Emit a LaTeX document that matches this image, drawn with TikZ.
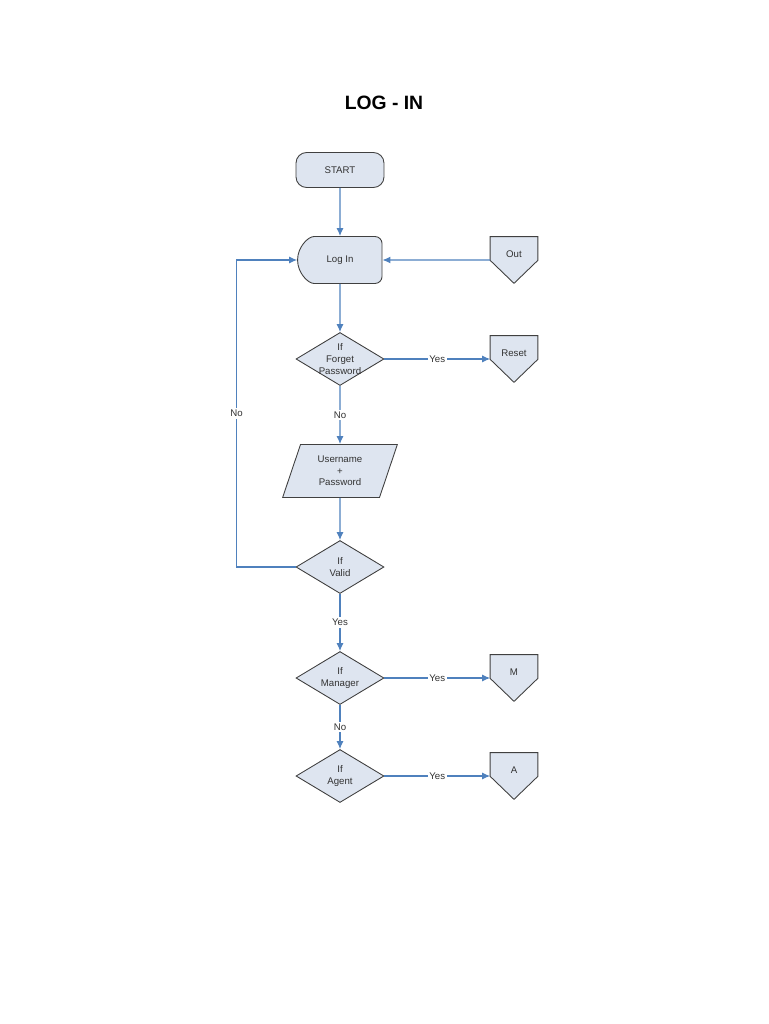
\documentclass[tikz,border=0pt]{standalone}
\usepackage{fontspec}
\setmainfont{Liberation Sans}
\usetikzlibrary{positioning,arrows.meta,shapes.geometric,shapes.misc,backgrounds}
\definecolor{boxfill}{RGB}{222,229,240}
\definecolor{flowblue}{RGB}{79,129,189}
\definecolor{edgegray}{RGB}{64,64,64}
\definecolor{txtgray}{RGB}{50,50,50}

\begin{document}
\begin{tikzpicture}[x=0.02cm, y=-0.02cm,
  base/.style={draw=edgegray, fill=boxfill, font=\fontsize{5.5}{6.6}\selectfont,
               text=txtgray, align=center, inner sep=1pt, line width=0.5pt},
  term/.style={base, rounded corners=6pt, minimum width=1.76cm, minimum height=0.7cm},
  disp/.style={base, rounded rectangle, rounded rectangle right arc=none,
               rounded rectangle left arc=convex, rounded corners=4pt,
               minimum width=1.76cm, minimum height=0.94cm},
  dec/.style={base, diamond, aspect=1.66, inner sep=0pt,
              minimum width=1.76cm, minimum height=1.06cm},
  io/.style={base, trapezium, trapezium left angle=72, trapezium right angle=108,
             minimum width=2.3cm, minimum height=1.06cm, trapezium stretches=true},
  offpg/.style={font=\fontsize{5.5}{6.6}\selectfont, text=txtgray, inner sep=0pt,
                minimum width=0.94cm, minimum height=0.92cm, text height=4pt, text depth=7pt,
                append after command={\pgfextra{\begin{pgfonlayer}{background}
                  \draw[draw=edgegray, fill=boxfill, line width=0.5pt]
                    (\tikzlastnode.north west) -- (\tikzlastnode.north east)
                    -- ([yshift=0.46cm]\tikzlastnode.south east) -- (\tikzlastnode.south)
                    -- ([yshift=0.46cm]\tikzlastnode.south west) -- cycle;
                \end{pgfonlayer}}}},
  flow/.style={draw=flowblue, line width=0.6pt, -{Latex[length=1.6mm,width=1.4mm]}},
  lbl/.style={fill=white, inner sep=1pt, text=txtgray, font=\fontsize{5.5}{6.6}\selectfont},
  declbl/.style={text=txtgray, align=center, inner sep=0pt, font=\fontsize{5.5}{6.6}\selectfont}
]
\useasboundingbox (0,0) rectangle (768,1024);

%% Title
\node[font=\fontsize{11}{13}\selectfont\bfseries] (title) at (384,103) {LOG - IN};

%% Main column
\node[term] (start) at (340,170) {START};
\node[disp] (login) at (340,260) {Log In};
\node[dec, label={[declbl]center:If\\Forget\\Password}] (forget) at (340,359) {};
\node[io] (cred) at (340,471) {Username\\+\\Password};
\node[dec, label={[declbl]center:If\\Valid}] (valid) at (340,567) {};
\node[dec, label={[declbl]center:If\\Manager}] (mgr) at (340,678) {};
\node[dec, label={[declbl]center:If\\Agent}] (agent) at (340,776) {};

%% Off-page references
\node[offpg] (out) at (514,260) {Out};
\node[offpg] (reset) at (514,359) {Reset};
\node[offpg] (mref) at (514,678) {M};
\node[offpg] (aref) at (514,776) {A};

%% Connectors
\draw[flow] (start) -- (login);
\draw[flow] (out) -- (login);
\draw[flow] (login) -- (forget);
\draw[flow] (forget) -- node[lbl] {Yes} (reset);
\draw[flow] (forget) -- node[lbl] {No} (cred);
\draw[flow] (cred) -- (valid);
\draw[flow] (valid.west) -- ++(-59,0) |- node[lbl, pos=0.25] {No} (login.west);
\draw[flow] (valid) -- node[lbl] {Yes} (mgr);
\draw[flow] (mgr) -- node[lbl] {Yes} (mref);
\draw[flow] (mgr) -- node[lbl] {No} (agent);
\draw[flow] (agent) -- node[lbl] {Yes} (aref);
\end{tikzpicture}
\end{document}
